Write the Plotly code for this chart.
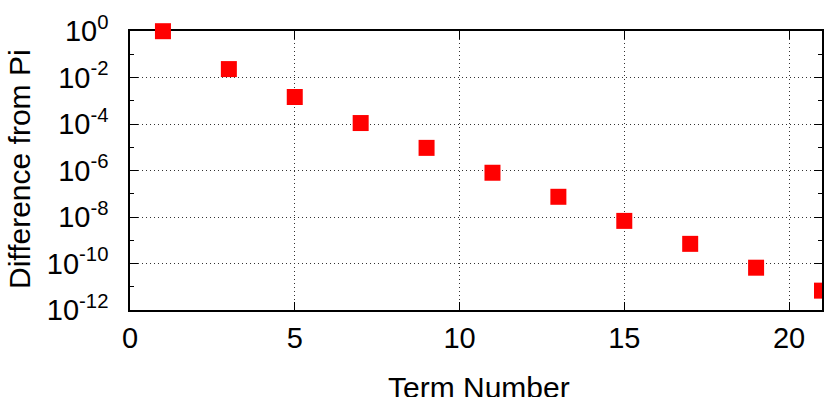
import plotly.graph_objects as go

# Data
term_number = [1, 3, 5, 7, 9, 11, 13, 15, 17, 19, 21]
difference_from_pi = [0.98, 2.3e-2, 1.45e-3, 1.1e-4, 9.4e-6, 8.0e-7,
                      7.4e-8, 6.8e-9, 7.0e-10, 6.6e-11, 6.8e-12]

x_tick_vals = [0, 5, 10, 15, 20]
y_tick_exponents = [0, -2, -4, -6, -8, -10, -12]
y_minor_exponents = [-1, -3, -5, -7, -9, -11]

y_tick_vals = [10.0 ** e for e in y_tick_exponents]
y_tick_text = ["10<sup>%d</sup>" % e for e in y_tick_exponents]
y_minor_vals = [10.0 ** e for e in y_minor_exponents]

x_title = "Term Number"
y_title = "Difference from Pi"

FONT = "Liberation Sans, Arial, Helvetica, sans-serif"
marker = dict(symbol="square", size=16, color="#ff0000", line=dict(width=0))

fig = go.Figure()
# inner points: not clipped (gnuplot draws the top-left point over the border)
fig.add_trace(go.Scatter(x=term_number[:-1], y=difference_from_pi[:-1],
                         mode="markers", marker=marker, cliponaxis=False,
                         showlegend=False, hoverinfo="skip"))
# last point sits on the right border and is clipped there
fig.add_trace(go.Scatter(x=term_number[-1:], y=difference_from_pi[-1:],
                         mode="markers", marker=marker, cliponaxis=True,
                         showlegend=False, hoverinfo="skip"))

grid = dict(showgrid=True, gridcolor="#333333", gridwidth=1, griddash="1px,3px")

fig.update_xaxes(
    range=[0, 21], tickmode="array", tickvals=x_tick_vals,
    ticks="inside", ticklen=8, tickwidth=1, tickcolor="black",
    showline=True, linecolor="black", linewidth=1.5, mirror="ticks",
    zeroline=False, layer="below traces", automargin=False,
    ticklabelstandoff=1,
    tickfont=dict(family=FONT, size=29, color="black"),
    **grid,
)
fig.update_yaxes(
    type="log", range=[-12, 0], tickmode="array", tickvals=y_tick_vals,
    ticktext=y_tick_text,
    ticks="inside", ticklen=8, tickwidth=1, tickcolor="black",
    minor=dict(tickmode="array", tickvals=y_minor_vals, ticks="inside",
               ticklen=4, tickwidth=1, tickcolor="black", showgrid=False),
    showline=True, linecolor="black", linewidth=1.5, mirror="ticks",
    zeroline=False, layer="below traces", automargin=False,
    ticklabelstandoff=14,
    tickfont=dict(family=FONT, size=29, color="black"),
    **grid,
)

fig.add_annotation(text=x_title, xref="paper", yref="paper",
                   x=0.5043, y=-0.276, xanchor="center", yanchor="middle",
                   showarrow=False, font=dict(family=FONT, size=30, color="black"))
fig.add_annotation(text=y_title, xref="paper", yref="paper", textangle=-90,
                   x=-0.159, y=0.5054, xanchor="center", yanchor="middle",
                   showarrow=False, font=dict(family=FONT, size=30, color="black"))

fig.update_layout(
    width=830, height=397,
    margin=dict(l=130, r=8, t=31, b=87, pad=0),
    paper_bgcolor="white", plot_bgcolor="white",
    font=dict(family=FONT, color="black"),
    hovermode=False,
)

fig.write_html(
    "out.html",
    config={"displayModeBar": False},
    post_script="document.body.style.margin='0';document.body.style.overflow='hidden';",
)
